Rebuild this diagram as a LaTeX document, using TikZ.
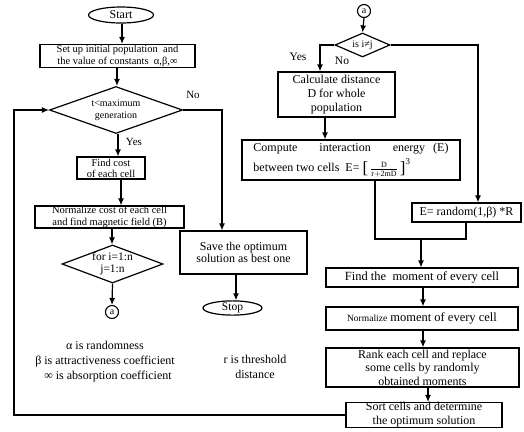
\documentclass[tikz,border=0pt]{standalone}
\usepackage{fontspec}
\setmainfont{Liberation Serif}
\usetikzlibrary{shapes.geometric,arrows.meta}
\newcommand{\fs}[2]{\fontsize{#1}{#2}\selectfont}
\begin{document}
\begin{tikzpicture}[x=1pt,y=-1pt,
  proc/.style={draw,line width=1.2pt,rectangle,inner sep=0pt,align=center},
  term/.style={draw,line width=1.2pt,ellipse,inner sep=0pt},
  dec/.style={draw,line width=1.2pt,diamond,inner sep=0pt},
  conn/.style={draw,line width=1.1pt,circle,inner sep=0pt,minimum size=13pt,font=\fs{10}{10}},
  txt/.style={inner sep=0pt,align=center},
  arr/.style={line width=1.2pt,-{Latex[length=7pt,width=6pt]}},
  ln/.style={line width=1.2pt}
]
\useasboundingbox (0,0) rectangle (524,431);
% ---------- left column ----------
\node[term,minimum width=65pt,minimum height=16pt,font=\fs{12}{12}] (start) at (121,15) {Start};
\node[proc,minimum width=155pt,minimum height=23pt,font=\fs{10.5}{12.5}] (setup) at (117.5,56)
  {Set up initial population~ and\\the value of constants~ α,β,∞};
\node[dec,minimum width=133pt,minimum height=47pt] (dec1) at (116,110) {};
\node[txt,font=\fs{10}{12}] (dec1t) at (116,110) {t<maximum\\generation};
\node[proc,minimum width=68pt,minimum height=22pt,font=\fs{10.5}{11}] (find) at (111,168)
  {Find cost\\of each cell};
\node[proc,minimum width=149pt,minimum height=22pt,font=\fs{10.5}{12}] (norm) at (109.5,217)
  {Normalize cost of each cell\\and find magnetic field (B)};
\node[dec,minimum width=101pt,minimum height=38pt] (dec2) at (112.5,264) {};
\node[txt,font=\fs{11.5}{12}] (dec2t) at (112.5,264) {for i=1:n\\j=1:n};
\node[conn] (a1) at (112,312) {a};
\node[proc,minimum width=127pt,minimum height=43pt,font=\fs{12}{12.5}] (save) at (243.5,252.5)
  {Save the optimum\\solution as best one};
\node[term,minimum width=59pt,minimum height=13pt,font=\fs{11.5}{11.5}] (stop) at (232.5,308) {Stop};
\node[txt,font=\fs{12}{15}] (leg1) at (105,362)
  {α is randomness\\β is attractiveness coefficient\\~~∞ is absorption coefficient};
\node[txt,font=\fs{12}{15}] (leg2) at (255,367) {r is threshold\\distance};
\node[txt,font=\fs{11}{11}] (no1) at (193,95) {No};
\node[txt,font=\fs{11}{11}] (yes1) at (134,142) {Yes};
% ---------- right column ----------
\node[conn] (a2) at (364,11) {a};
\node[dec,minimum width=55pt,minimum height=24pt] (dec3) at (362.5,45) {};
\node[txt,font=\fs{10}{10}] (dec3t) at (362.5,45) {is i≠j};
\node[txt,font=\fs{11.5}{11.5}] (yes2) at (298,57) {Yes};
\node[txt,font=\fs{11.5}{11.5}] (no2) at (342,61) {No};
\node[proc,minimum width=117pt,minimum height=45pt,font=\fs{12}{14}] (calc) at (336.5,94.5)
  {Calculate distance\\D for whole\\population};
\node[proc,minimum width=218pt,minimum height=40pt,font=\fs{12}{12},align=left] (comp) at (351,160)
  {Compute\hspace{22pt}interaction\hspace{22pt}energy\hspace{8pt}(E)\\[4pt]
   between two cells~ E= \raisebox{-2pt}{\fs{17}{17}[}\,$\frac{\mathrm{D}}{\mathrm{r+2mD}}$\,\raisebox{-2pt}{\fs{17}{17}]}\raisebox{7pt}{\fs{9}{9}3}\hspace{40pt}};
\node[proc,minimum width=109pt,minimum height=19pt,font=\fs{12}{12}] (rand) at (466.5,212.5)
  {E= random(1,β) *R};
\node[proc,minimum width=192pt,minimum height=19pt,font=\fs{12.5}{12.5}] (findm) at (422,277.5)
  {Find the~ moment of every cell};
\node[proc,minimum width=192pt,minimum height=23pt,font=\fs{12.5}{12.5}] (normm) at (422,318.5)
  {{\fs{9.5}{9.5}Normalize} moment of every cell};
\node[proc,minimum width=193pt,minimum height=39pt,font=\fs{12}{13.5}] (rank) at (422.5,367.5)
  {Rank each cell and replace\\some cells by randomly\\obtained moments};
\node[proc,minimum width=156pt,minimum height=24pt,font=\fs{12}{14}] (sort) at (424,415)
  {Sort cells and determine\\the optimum solution};
% ---------- connectors ----------
\coordinate (c1) at (222,110);
\coordinate (c2) at (14,110);
\coordinate (c3) at (14,415);
\coordinate (c4) at (320,45);
\coordinate (c5) at (478,45);
\coordinate (c6) at (375,239);
\coordinate (c7) at (466,239);
\coordinate (c8) at (421,239);
\draw[arr] (start.south -| 122,0) -- (122,44.5 |- setup.north);
\draw[arr] (setup.south -| 117,0) -- (117,0 |- dec1.north);
\draw[arr] (dec1.south -| 118,0) -- (118,0 |- find.north);
\draw[arr] (find.south -| 121,0) -- (121,0 |- norm.north);
\draw[arr] (norm.south -| 112,0) -- (112,0 |- dec2.north);
\draw[arr] (dec2.south) -- (a1.north);
\draw[arr] (dec1.east) -- (c1) -- (c1 |- save.north);
\draw[arr] (save.south -| 236,0) -- (236,0 |- stop.north);
\draw[arr] (sort.west) -- (c3) -- (c2) -- (dec1.west);
\draw[arr] (a2.south) -- (dec3.north);
\draw[arr] (dec3.west) -- (c4) -- (c4 |- calc.north);
\draw[arr] (dec3.east) -- (c5) -- (c5 |- rand.north);
\draw[arr] (calc.south -| 325,0) -- (325,0 |- comp.north);
\draw[ln] (c6 |- comp.south) -- (c6) -- (c7) -- (c7 |- rand.south);
\draw[arr] (c8) -- (c8 |- findm.north);
\draw[arr] (findm.south -| 423,0) -- (423,0 |- normm.north);
\draw[arr] (normm.south -| 423,0) -- (423,0 |- rank.north);
\draw[arr] (rank.south -| 428,0) -- (428,0 |- sort.north);
\end{tikzpicture}
\end{document}
